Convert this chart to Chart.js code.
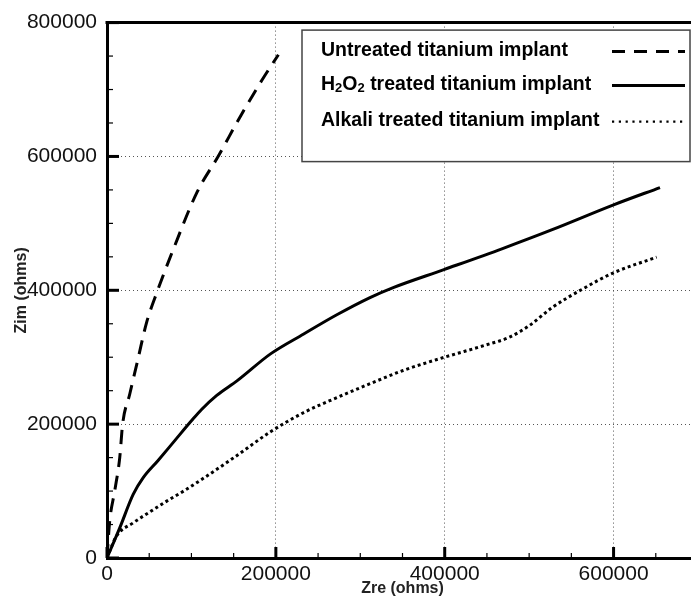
<!DOCTYPE html>
<html><head><meta charset="utf-8">
<script src="https://cdn.jsdelivr.net/npm/chart.js@4.4.1/dist/chart.umd.min.js"></script>
<style>
html,body{margin:0;padding:0;overflow:hidden;background:#fff;width:691px;height:603px}
#wrap{width:720px;height:603px}
</style></head>
<body><div id="wrap"><canvas id="c" width="720" height="603"></canvas></div>
<script>
// ---- data ----
const seriesLabels = ['Untreated titanium implant', 'H\u2082O\u2082 treated titanium implant', 'Alkali treated titanium implant'];

const untreatedZre = [0, 3200, 9100, 15100, 18500, 26900, 36800, 46700, 60000, 79000, 106700, 131600, 158100, 183800, 203000];
const untreatedZim = [0, 55000, 100000, 150000, 200000, 244700, 297900, 351000, 400000, 462700, 546700, 600000, 660200, 714600, 752000];

const h2o2Zre = [0, 15100, 31000, 42900, 60000, 80000, 100000, 112000, 130000, 154300, 193700, 233000, 272200, 311500, 339000, 399800, 468500, 527300, 600000, 655000];
const h2o2Zim = [0, 45000, 95000, 120000, 145000, 175000, 205000, 222000, 243000, 265000, 305000, 334700, 363400, 389100, 404000, 431200, 462400, 490600, 527700, 553500];

const alkaliZre = [0, 11100, 31000, 50900, 70800, 90700, 110500, 150300, 193700, 233000, 272200, 311500, 350700, 399800, 448900, 476300, 499900, 527300, 562700, 600000, 651000];
const alkaliZim = [0, 32500, 52500, 69000, 85000, 100000, 116000, 150000, 188600, 217300, 239600, 260400, 280200, 300000, 318300, 329700, 347000, 374300, 401500, 426200, 449500];

const xTickValues = [0, 200000, 400000, 600000];
const yTickValues = [0, 200000, 400000, 600000, 800000];
const xTitle = 'Zre (ohms)';
const yTitle = 'Zim (ohms)';

function pts(xs, ys) { return xs.map((v, i) => ({x: v, y: ys[i]})); }

// ---- decorations: inward ticks, top frame, boxed legend ----
const framePlugin = {
  id: 'framePlugin',
  afterDatasetsDraw(chart) {
    const {ctx, chartArea: a, scales: {x, y}} = chart;
    ctx.save();
    ctx.strokeStyle = '#000';
    ctx.lineWidth = 3;
    ctx.beginPath(); ctx.moveTo(a.left - 1.5, a.top); ctx.lineTo(a.right, a.top); ctx.stroke();
    for (let v = 0; v <= x.max; v += 50000) {
      const px = x.getPixelForValue(v);
      const major = v % 200000 === 0;
      ctx.lineWidth = major ? 3 : 1.2;
      ctx.beginPath(); ctx.moveTo(px, a.bottom); ctx.lineTo(px, a.bottom - (major ? 11 : 5)); ctx.stroke();
    }
    for (let v = 0; v <= y.max; v += 50000) {
      const py = y.getPixelForValue(v);
      const major = v % 200000 === 0;
      ctx.lineWidth = major ? 3 : 1.2;
      ctx.beginPath(); ctx.moveTo(a.left, py); ctx.lineTo(a.left + (major ? 12 : 6), py); ctx.stroke();
    }
    const bl = a.left + 195, bt = a.top + 7.5, br = a.right - 8, bb = a.top + 139;
    ctx.fillStyle = '#fff';
    ctx.fillRect(bl, bt, br - bl, bb - bt);
    ctx.lineWidth = 1.5; ctx.strokeStyle = '#444';
    ctx.strokeRect(bl, bt, br - bl, bb - bt);
    const rows = [a.top + 28, a.top + 62, a.top + 98];
    const sampleDash = [[13, 9], [], [2.2, 4.6]];
    const sampleW = [3, 3, 2.4];
    const big = 'bold 19.5px "Liberation Sans", Arial, sans-serif';
    const small = 'bold 13px "Liberation Sans", Arial, sans-serif';
    chart.data.datasets.forEach((ds, i) => {
      const ry = rows[i];
      ctx.fillStyle = '#000';
      ctx.textBaseline = 'middle';
      ctx.textAlign = 'left';
      let tx = bl + 19;
      for (const ch of ds.label) {
        const code = ch.charCodeAt(0);
        if (code >= 0x2080 && code <= 0x2089) {
          ctx.font = small;
          const d = String(code - 0x2080);
          ctx.fillText(d, tx, ry + 4);
          tx += ctx.measureText(d).width;
        } else {
          ctx.font = big;
          ctx.fillText(ch, tx, ry);
          tx += ctx.measureText(ch).width;
        }
      }
      ctx.strokeStyle = '#000';
      ctx.lineWidth = sampleW[i];
      ctx.setLineDash(sampleDash[i]);
      ctx.beginPath(); ctx.moveTo(br - 78, ry + 1); ctx.lineTo(br - 5, ry + 1); ctx.stroke();
      ctx.setLineDash([]);
    });
    ctx.restore();
  }
};

const tickFont = {family: '"Liberation Sans", Arial, sans-serif', size: 21};
const titleFont = {family: '"Liberation Sans", Arial, sans-serif', size: 16, weight: 'bold'};

new Chart(document.getElementById('c'), {
  type: 'line',
  data: {
    datasets: [
      {label: seriesLabels[0], data: pts(untreatedZre, untreatedZim), borderColor: '#000', borderWidth: 3, borderDash: [14, 9], pointRadius: 0, cubicInterpolationMode: 'monotone', fill: false},
      {label: seriesLabels[1], data: pts(h2o2Zre, h2o2Zim), borderColor: '#000', borderWidth: 3, pointRadius: 0, cubicInterpolationMode: 'monotone', fill: false},
      {label: seriesLabels[2], data: pts(alkaliZre, alkaliZim), borderColor: '#000', borderWidth: 3, borderDash: [3, 3], pointRadius: 0, cubicInterpolationMode: 'monotone', fill: false}
    ]
  },
  options: {
    responsive: false,
    animation: false,
    devicePixelRatio: 1,
    layout: {padding: {top: 20, left: 0, right: 22, bottom: 0}},
    plugins: {legend: {display: false}, tooltip: {enabled: false}},
    scales: {
      x: {
        type: 'linear', min: 0, max: 700000,
        afterBuildTicks: s => { s.ticks = xTickValues.map(v => ({value: v})); },
        afterFit: s => { s.height = 45; },
        ticks: {font: tickFont, color: '#111', padding: 4, maxRotation: 0, autoSkip: false, callback: v => String(v)},
        grid: {color: '#555', lineWidth: 1, drawTicks: false},
        border: {display: true, color: '#000', width: 3, dash: [1, 3]},
        title: {display: true, text: xTitle, font: titleFont, color: '#222', padding: {top: 0, bottom: 5}}
      },
      y: {
        type: 'linear', min: 0, max: 800000,
        afterBuildTicks: s => { s.ticks = yTickValues.map(v => ({value: v})); },
        afterFit: s => { s.width = 107; },
        ticks: {font: tickFont, color: '#111', padding: 10, autoSkip: false, callback: v => String(v)},
        grid: {color: '#555', lineWidth: 1, drawTicks: false},
        border: {display: true, color: '#000', width: 3, dash: [1, 3]},
        title: {display: true, text: yTitle, font: titleFont, color: '#222', padding: {top: 12, bottom: 0}}
      }
    }
  },
  plugins: [framePlugin]
});
</script>
</body></html>
